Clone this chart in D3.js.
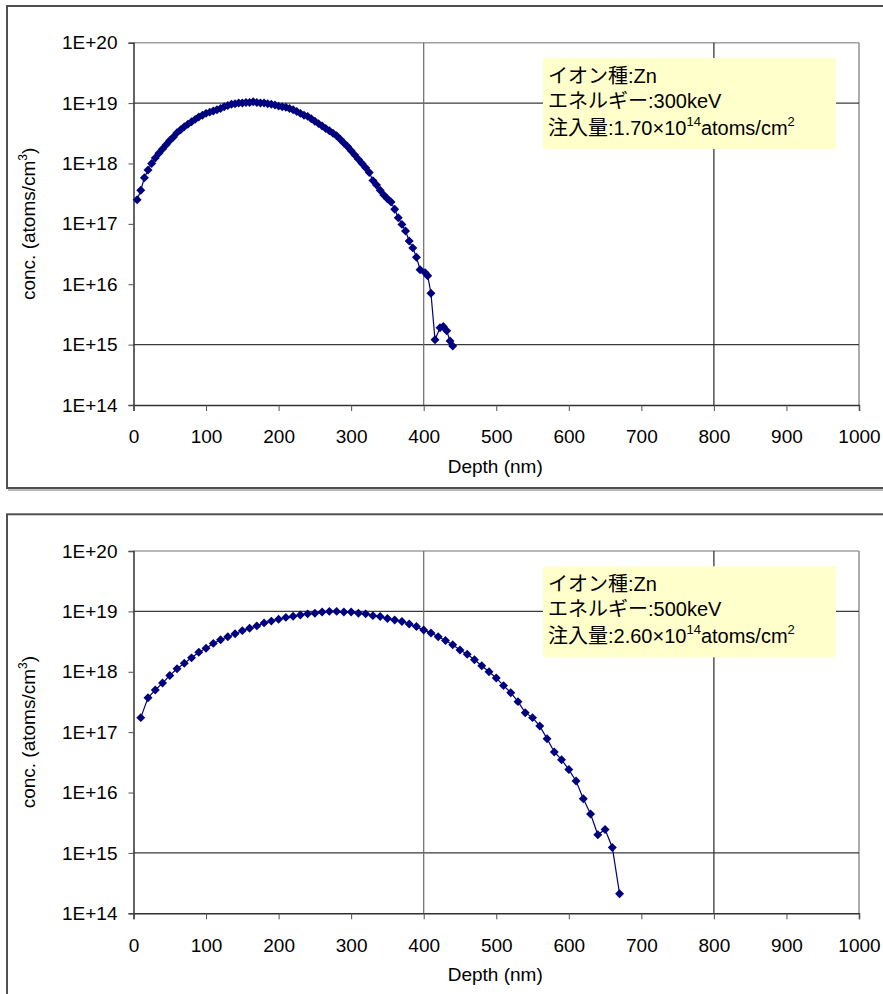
<!DOCTYPE html>
<html>
<head>
<meta charset="utf-8">
<script src="https://cdn.jsdelivr.net/npm/d3@7"></script>
<style>
  html, body { margin: 0; padding: 0; background: #fff; }
  svg { display: block; }
  text { font-family: "Liberation Sans", Arial, "Noto Sans CJK JP", sans-serif; fill: #000; }
</style>
</head>
<body>
<svg id="chart" width="883" height="994"></svg>
<script>
// Zn implantation profiles: depth (nm) vs concentration (atoms/cm^3)
const depth300 = [5,10,15,20,25,30,35,40,45,50,55,60,65,70,75,80,85,90,95,100,
  105,110,115,120,125,130,135,140,145,150,155,160,165,170,175,180,185,190,195,200,
  205,210,215,220,225,230,235,240,245,250,255,260,265,270,275,280,285,290,295,300,
  305,310,315,320,325,330,335,340,345,350,355,360,365,370,375,380,385,390,
  395,402,405.5,410,415.6,422.5,427,431.7,436.3,440];
const conc300 = [2.5e17,3.6e17,5.8e17,7.8e17,1.0e18,1.23e18,1.48e18,1.74e18,2.04e18,2.4e18,
  2.75e18,3.24e18,3.63e18,4.07e18,4.47e18,4.9e18,5.37e18,5.89e18,6.31e18,6.76e18,
  7.08e18,7.41e18,7.76e18,8.13e18,8.71e18,9.12e18,9.55e18,9.77e18,1.0e19,1.0e19,
  1.02e19,1.02e19,1.05e19,1.02e19,1.0e19,1.0e19,9.77e18,9.55e18,9.33e18,8.91e18,
  8.71e18,8.51e18,8.13e18,7.76e18,7.24e18,6.76e18,6.31e18,6.03e18,5.5e18,5.01e18,
  4.57e18,4.17e18,3.8e18,3.47e18,3.16e18,2.88e18,2.51e18,2.19e18,1.91e18,1.62e18,
  1.38e18,1.17e18,1.0e18,8.5e17,7.1e17,5.2e17,4.4e17,3.6e17,3.0e17,2.6e17,
  2.3e17,1.74e17,1.26e17,9.8e16,7.6e16,5.2e16,4.0e16,2.8e16,
  1.74e16,1.55e16,1.38e16,7.1e15,1.2e15,1.9e15,2.0e15,1.7e15,1.15e15,9.5e14];

const depth500 = [10,20,30,40,50,60,70,80,90,100,110,120,130,140,150,160,170,180,190,200,
  210,220,230,240,250,260,270,280,290,300,310,320,330,340,350,360,370,380,390,400,
  410,420,430,440,450,460,470,480,490,500,510,520,530,540,550,560,570,580,590,600,
  610,620,630,640,650,660,670];
const conc500 = [1.74e17,3.7e17,5.0e17,6.5e17,8.7e17,1.12e18,1.38e18,1.7e18,2.1e18,2.45e18,
  2.95e18,3.4e18,3.8e18,4.27e18,4.8e18,5.25e18,5.75e18,6.45e18,6.9e18,7.4e18,
  7.95e18,8.3e18,8.7e18,9.1e18,9.3e18,9.8e18,1.0e19,1.0e19,9.8e18,9.8e18,
  9.3e18,9.1e18,8.5e18,8.2e18,7.6e18,7.2e18,6.8e18,6.2e18,5.6e18,4.9e18,
  4.4e18,3.8e18,3.3e18,2.8e18,2.3e18,1.95e18,1.58e18,1.26e18,1.0e18,7.9e17,
  5.9e17,4.5e17,3.2e17,2.1e17,1.74e17,1.26e17,7.8e16,4.7e16,3.5e16,2.4e16,
  1.55e16,7.9e15,4.4e15,2.0e15,2.45e15,1.23e15,2.1e14];

const xTicks = [0,100,200,300,400,500,600,700,800,900,1000];
const yTicks = [1e14,1e15,1e16,1e17,1e18,1e19,1e20];
const xGrid = [400,800];
const yGrid = [1e15,1e19];

const info300 = { ion: "Zn", energy: "300keV", doseMantissa: "1.70", doseExp: "14" };
const info500 = { ion: "Zn", energy: "500keV", doseMantissa: "2.60", doseExp: "14" };

const svg = d3.select("#chart");
const navy = "#00007f";

function panel(offsetY, depths, concs, info) {
  const g = svg.append("g").attr("transform", `translate(0,${offsetY})`);

  // outer frame with soft shadow
  g.append("rect").attr("x", 9).attr("y", 8).attr("width", 900).attr("height", 482)
    .attr("fill", "none").attr("stroke", "#bbb").attr("stroke-width", 2);
  g.append("rect").attr("x", 7).attr("y", 6).attr("width", 900).attr("height", 482)
    .attr("fill", "#fff").attr("stroke", "#505050").attr("stroke-width", 2);

  const left = 133.5, right = 859, top = 42.7, bottom = 405;
  const x = d3.scaleLinear().domain([0, 1000]).range([left, right]);
  const y = d3.scaleLog().domain([1e14, 1e20]).range([bottom, top]);

  // plot area top/right border
  g.append("line").attr("x1", left).attr("x2", right).attr("y1", top).attr("y2", top)
    .attr("stroke", "#a0a0a0").attr("stroke-width", 1.5);
  g.append("line").attr("x1", right).attr("x2", right).attr("y1", top).attr("y2", bottom)
    .attr("stroke", "#909090").attr("stroke-width", 1.5);

  // gridlines
  g.selectAll(".hg").data(yGrid).join("line")
    .attr("x1", left).attr("x2", right)
    .attr("y1", d => y(d)).attr("y2", d => y(d))
    .attr("stroke", "#3a3a3a").attr("stroke-width", 1.2);
  g.selectAll(".vg").data(xGrid).join("line")
    .attr("x1", d => x(d)).attr("x2", d => x(d))
    .attr("y1", top).attr("y2", bottom)
    .attr("stroke", (d, i) => i === 0 ? "#6a6a6a" : "#2a2a2a").attr("stroke-width", 1.2);

  // axes
  const yAxis = d3.axisLeft(y).tickValues(yTicks).tickSize(5).tickPadding(11)
    .tickFormat(d => "1E+" + Math.round(Math.log10(d)));
  const ya = g.append("g").attr("transform", `translate(${left},0)`).call(yAxis);
  ya.select(".domain").attr("stroke", "#303030").attr("stroke-width", 1.5);
  ya.selectAll(".tick line").attr("stroke", "#505050");
  ya.selectAll(".tick text").attr("font-size", 19).attr("font-family", "Liberation Sans, Arial, sans-serif")
    .attr("fill", "#000");

  const xAxis = d3.axisBottom(x).tickValues(xTicks).tickSize(6).tickPadding(19)
    .tickFormat(d3.format("d"));
  const xa = g.append("g").attr("transform", `translate(0,${bottom})`).call(xAxis);
  xa.select(".domain").attr("stroke", "#303030").attr("stroke-width", 1.5);
  xa.selectAll(".tick line").attr("stroke", "#505050");
  xa.selectAll(".tick text").attr("font-size", 19).attr("font-family", "Liberation Sans, Arial, sans-serif")
    .attr("fill", "#000");

  // axis titles
  g.append("text").attr("x", (left + right) / 2 - 1).attr("y", 473)
    .attr("text-anchor", "middle").attr("font-size", 19).text("Depth (nm)");
  const yt = g.append("text")
    .attr("transform", `translate(35,${(top + bottom) / 2}) rotate(-90)`)
    .attr("text-anchor", "middle").attr("font-size", 19);
  yt.append("tspan").text("conc. (atoms/cm");
  yt.append("tspan").attr("font-size", 12).attr("dy", -8).text("3");
  yt.append("tspan").attr("dy", 8).text(")");

  // info box
  g.append("rect").attr("x", 543).attr("y", 58).attr("width", 293).attr("height", 91)
    .attr("fill", "#ffffcc");
  const tx = 548;
  g.append("text").attr("x", tx).attr("y", 83).attr("font-size", 20).text("イオン種:" + info.ion);
  g.append("text").attr("x", tx).attr("y", 108).attr("font-size", 20).text("エネルギー:" + info.energy);
  const t3 = g.append("text").attr("x", tx).attr("y", 135).attr("font-size", 20);
  t3.append("tspan").text("注入量:" + info.doseMantissa + "×10");
  t3.append("tspan").attr("font-size", 13).attr("dy", -9).text(info.doseExp);
  t3.append("tspan").attr("dy", 9).text("atoms/cm");
  t3.append("tspan").attr("font-size", 13).attr("dy", -9).text("2");

  // profile line and diamond markers (square turned 45 degrees)
  const pts = depths.map((d, i) => [d, concs[i]]);
  g.append("path").datum(pts)
    .attr("fill", "none").attr("stroke", navy).attr("stroke-width", 1.2)
    .attr("d", d3.line().x(d => x(d[0])).y(d => y(d[1])));
  const marker = d3.symbol().type(d3.symbolSquare).size(40);
  g.selectAll(".pt").data(pts).join("path")
    .attr("transform", d => `translate(${x(d[0])},${y(d[1])}) rotate(45)`)
    .attr("d", marker)
    .attr("fill", navy);
}

panel(0, depth300, conc300, info300);
panel(508.3, depth500, conc500, info500);
</script>
</body>
</html>
